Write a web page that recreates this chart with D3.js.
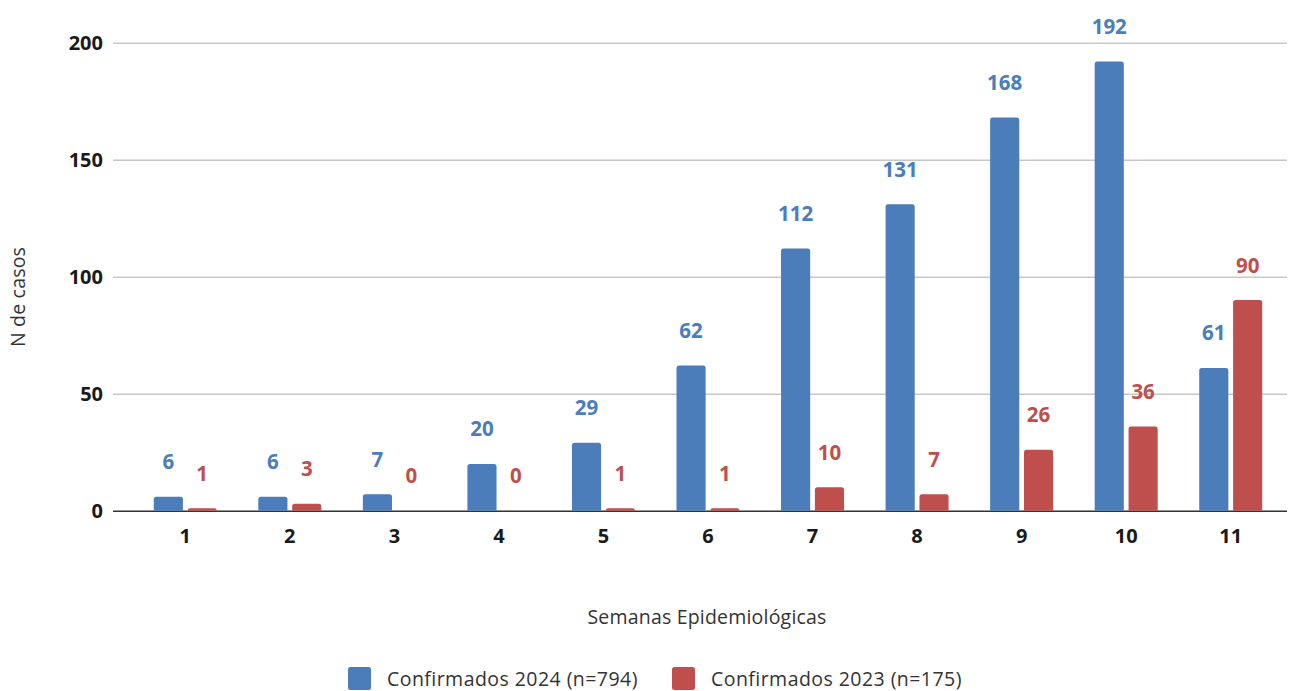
<!DOCTYPE html>
<html>
<head>
<meta charset="utf-8">
<script src="https://cdn.jsdelivr.net/npm/d3@7"></script>
<style>
  html, body { margin: 0; padding: 0; background: #fff; }
  svg { display: block; font-family: "Open Sans", "Noto Sans", sans-serif; }
</style>
</head>
<body>
<svg id="chart" width="1291" height="691"></svg>
<script>
// Weekly confirmed cases by epidemiological week
const weeks = ["1", "2", "3", "4", "5", "6", "7", "8", "9", "10", "11"];
const cases2024 = [6, 6, 7, 20, 29, 62, 112, 131, 168, 192, 61];
const cases2023 = [1, 3, 0, 0, 1, 1, 10, 7, 26, 36, 90];
const seriesNames = ["Confirmados 2024 (n=794)", "Confirmados 2023 (n=175)"];
const seriesKeys = ["y2024", "y2023"];
const yTicks = [0, 50, 100, 150, 200];

const colors = { y2024: "#4a7dba", y2023: "#be4f4c" };

const rows = weeks.map((w, i) => ({ week: w, y2024: cases2024[i], y2023: cases2023[i] }));

const svg = d3.select("#chart");

const x = d3.scaleBand().domain(weeks).range([133, 1283]).paddingInner(0).paddingOuter(0);
const groupWidth = 63;
const xs = d3.scaleBand().domain(seriesKeys).range([0, groupWidth]).paddingInner(0.14).paddingOuter(0);
const y = d3.scaleLinear().domain([0, 200]).range([510.7, 42.7]);

const gridLeft = 113, gridRight = 1287;

// horizontal gridlines and y tick labels
const yAxis = d3.axisLeft(y).tickValues(yTicks).tickSize(0).tickPadding(0);
const yg = svg.append("g").attr("transform", `translate(${gridLeft},0)`).call(yAxis);
yg.select(".domain").remove();
yg.selectAll(".tick line")
  .attr("x2", gridRight - gridLeft)
  .attr("stroke", d => d === 0 ? "#333" : "#c8c8c8")
  .attr("stroke-width", 1.5);
yg.selectAll(".tick text")
  .attr("x", -10)
  .attr("dy", "0.35em")
  .attr("fill", "#1a1a1a")
  .style("font-size", "20px")
  .style("font-weight", "700")
  .style("font-family", "'Open Sans', sans-serif");

// x tick labels
const xAxis = d3.axisBottom(x).tickSize(0).tickPadding(0);
const xg = svg.append("g").attr("transform", `translate(0,${y(0)})`).call(xAxis);
xg.select(".domain").remove();
xg.selectAll(".tick text")
  .attr("y", 32)
  .attr("dy", 0)
  .attr("fill", "#1a1a1a")
  .style("font-size", "20px")
  .style("font-weight", "700")
  .style("font-family", "'Open Sans', sans-serif");

// bar with rounded top corners
function topRounded(x0, y0, w, h, r) {
  if (h <= 0) return "";
  r = Math.min(r, h, w / 2);
  return `M${x0},${y0 + h}V${y0 + r}Q${x0},${y0} ${x0 + r},${y0}H${x0 + w - r}Q${x0 + w},${y0} ${x0 + w},${y0 + r}V${y0 + h}Z`;
}

const groups = svg.append("g").selectAll("g.week")
  .data(rows).join("g")
  .attr("class", "week")
  .attr("transform", d => `translate(${x(d.week) + x.bandwidth() / 2 - groupWidth / 2},0)`);

groups.selectAll("path.bar")
  .data(d => seriesKeys.map(k => ({ key: k, value: d[k] })))
  .join("path")
  .attr("class", "bar")
  .attr("fill", d => colors[d.key])
  .attr("d", d => topRounded(xs(d.key), y(d.value), xs.bandwidth(), y(0) - y(d.value), 2.5));

// value labels above each bar
groups.selectAll("text.val")
  .data(d => seriesKeys.map(k => ({ key: k, value: d[k] })))
  .join("text")
  .attr("class", "val")
  .attr("x", d => xs(d.key) + xs.bandwidth() / 2)
  .attr("y", d => y(d.value) - 27.5)
  .attr("text-anchor", "middle")
  .attr("fill", d => colors[d.key])
  .style("font-size", "20.5px")
  .style("font-weight", "700")
  .text(d => d.value);

// axis titles
svg.append("text")
  .attr("x", 707).attr("y", 624)
  .attr("text-anchor", "middle")
  .attr("fill", "#333")
  .style("font-size", "19.5px")
  .style("letter-spacing", "0.2px")
  .text("Semanas Epidemiológicas");

svg.append("text")
  .attr("transform", "translate(25,297) rotate(-90)")
  .attr("text-anchor", "middle")
  .attr("fill", "#333")
  .style("font-size", "19.5px")
  .style("letter-spacing", "0.2px")
  .text("N de casos");

// legend
const legendX = [348, 672];
const legend = svg.append("g").selectAll("g.leg")
  .data(seriesKeys).join("g")
  .attr("class", "leg")
  .attr("transform", (d, i) => `translate(${legendX[i]},667)`);
legend.append("rect")
  .attr("width", 23).attr("height", 23).attr("rx", 2.5)
  .attr("fill", d => colors[d]);
legend.append("text")
  .attr("x", 39).attr("y", 19)
  .attr("fill", "#333")
  .style("font-size", "19.5px")
  .style("letter-spacing", "0.45px")
  .text((d, i) => seriesNames[i]);
</script>
</body>
</html>
